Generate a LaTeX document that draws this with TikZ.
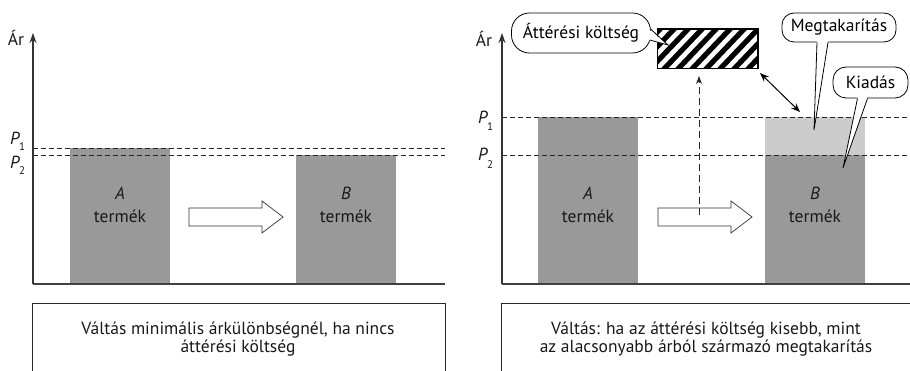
\documentclass[tikz,border=0pt]{standalone}
\usepackage{fontspec}
\setmainfont{PT Sans}
\usetikzlibrary{arrows.meta,calc}
\begin{document}
\begin{tikzpicture}[x=1pt,y=-1pt,
  axisline/.style={draw=black!80, line width=1.3pt},
  axarrow/.style={axisline,-{Stealth[length=10pt,width=7pt]}},
  baseline/.style={draw=black!75, line width=1.4pt},
  pline/.style={draw=black!85, line width=0.8pt, dash pattern=on 5pt off 3pt},
  darkbar/.style={fill=black!40, draw=none, inner sep=0pt, anchor=north west},
  lightbar/.style={fill=black!20, draw=none, inner sep=0pt, anchor=north west},
  blockarrow/.style={draw=black!80, line width=0.7pt, fill=white},
  txt/.style={font=\fontsize{17.5}{18}\selectfont, inner sep=0pt, text=black!90},
  subtxt/.style={font=\fontsize{11}{12}\selectfont, inner sep=0pt, text=black!90},
  captionbox/.style={draw=black!85, line width=1pt},
  bubble/.style={draw, line width=0.8pt, fill=white, rounded corners=13pt, inner sep=0pt, font=\fontsize{17.5}{18}\selectfont},
  tail/.style={draw, line width=0.8pt, line join=miter},
  vdash/.style={draw=black!85, line width=0.9pt, dash pattern=on 7pt off 4pt, -{Stealth[length=8pt,width=6pt]}},
  dblarrow/.style={draw=black, line width=1pt, {Stealth[length=9pt,width=7pt]}-{Stealth[length=9pt,width=7pt]}}
]
\useasboundingbox (0,0) rectangle (910,371);
\clip (0,0) rectangle (910,371);

% ===== left panel =====
\node[darkbar, minimum width=100pt, minimum height=136pt] (lA) at (70,148) {};
\node[darkbar, minimum width=100pt, minimum height=129pt] (lB) at (296,155) {};
\draw[pline] (33,148) -- (445,148);
\draw[pline] (33,155) -- (445,155);
\coordinate (lO) at (33,284);
\coordinate (lTop) at (33,33);
\coordinate (lEnd) at (445,284);
\draw[axarrow] (lO) -- (lTop);
\draw[baseline] (lO) -- (lEnd);
\node[txt] (lAr) at (16,38) {Ár};
\node[txt] (lP1) at (15,138) {\textit{P}};
\node[subtxt] (lP1s) at (22,147) {1};
\node[txt] (lP2) at (15,162) {\textit{P}};
\node[subtxt] (lP2s) at (22,171) {2};
\node[txt] (lAt) at (120,193) {\textit{A}};
\node[txt] (lAt2) at (120,216) {termék};
\node[txt] (lBt) at (346,193) {\textit{B}};
\node[txt] (lBt2) at (346,216) {termék};
\draw[blockarrow] (189,208) -- (262,208) -- (262,201) -- (283,217) -- (262,233) -- (262,226) -- (189,226) -- cycle;
\draw[captionbox] (32,380) -- (32,304) -- (445,304) -- (445,380);
\node[txt, align=center] (lcap) at (238,339) {Váltás minimális árkülönbségnél, ha nincs\\áttérési költség};

% ===== right panel =====
\node[darkbar, minimum width=100pt, minimum height=167pt] (rA) at (538,117) {};
\node[lightbar, minimum width=100pt, minimum height=38pt] (rBl) at (765,117) {};
\node[darkbar, minimum width=100pt, minimum height=129pt] (rB) at (765,155) {};
\draw[pline] (502,117) -- (910,117);
\draw[pline] (502,155) -- (910,155);
\coordinate (rO) at (502,284);
\coordinate (rTop) at (502,33);
\coordinate (rEnd) at (912,284);
\draw[axarrow] (rO) -- (rTop);
\draw[baseline] (rO) -- (rEnd);
\node[txt] (rAr) at (484,39) {Ár};
\node[txt] (rP1) at (483,117) {\textit{P}};
\node[subtxt] (rP1s) at (490,127) {1};
\node[txt] (rP2) at (483,154) {\textit{P}};
\node[subtxt] (rP2s) at (490,165) {2};
\node[txt] (rAt) at (588,193) {\textit{A}};
\node[txt] (rAt2) at (588,216) {termék};
\node[txt] (rBt) at (815,193) {\textit{B}};
\node[txt] (rBt2) at (815,216) {termék};
\draw[blockarrow] (658,208) -- (731,208) -- (731,201) -- (752,217) -- (731,233) -- (731,226) -- (658,226) -- cycle;

% hatched box
\node[draw, line width=1pt, minimum width=100pt, minimum height=39pt, inner sep=0pt, anchor=north west] (hatch) at (657,29) {};
\begin{scope}
  \clip (hatch.south west) rectangle (hatch.north east);
  \foreach \i in {-50,-36,...,110} {
    \draw[line width=5.2pt] (657+\i,70) -- (657+\i+41,27);
  }
\end{scope}
\draw[line width=1pt] (hatch.south west) rectangle (hatch.north east);

% dashed vertical arrow
\coordinate (vS) at (699,215);
\draw[vdash, shorten >=7pt] (vS) -- (vS |- hatch.south);

% double arrow
\coordinate (dA) at (760,73);
\coordinate (dB) at (800,112);
\draw[dblarrow] (dA) -- (dB);

\draw[captionbox] (501,380) -- (501,304) -- (920,304);
\node[txt, align=center] (rcap) at (706,339) {Váltás: ha az áttérési költség kisebb, mint\\az alacsonyabb árból származó megtakarítás};

% callouts
\node[bubble, minimum width=139pt, minimum height=40pt, rounded corners=18pt] (cAtt) at (581,33) {Áttérési költség};
\coordinate (tAtt) at (668,45);
\fill[white] ($(cAtt.east)+(-2.5,-4)$) -- (tAtt) -- ($(cAtt.east)+(-3,7)$) -- cycle;
\draw[tail] ($(cAtt.east)+(-0.3,-4)$) -- (tAtt) -- ($(cAtt.east)+(-1.1,7)$);

\node[bubble, minimum width=114pt, minimum height=29pt, rounded corners=12pt] (cMeg) at (839,27.5) {Megtakarítás};
\coordinate (tMeg) at (814,130);
\fill[white] ($(cMeg.south)+(-22,-1.5)$) -- (tMeg) -- ($(cMeg.south)+(-11,-1.5)$) -- cycle;
\draw[tail] ($(cMeg.south)+(-22,0)$) -- (tMeg) -- ($(cMeg.south)+(-11,0)$);

\node[bubble, minimum width=75pt, minimum height=31pt, rounded corners=13pt] (cKia) at (870.5,82.5) {Kiadás};
\coordinate (tKia) at (843,168);
\fill[white] ($(cKia.south)+(-13,-1.5)$) -- (tKia) -- ($(cKia.south)+(-3,-1.5)$) -- cycle;
\draw[tail] ($(cKia.south)+(-13,0)$) -- (tKia) -- ($(cKia.south)+(-3,0)$);
\end{tikzpicture}
\end{document}
